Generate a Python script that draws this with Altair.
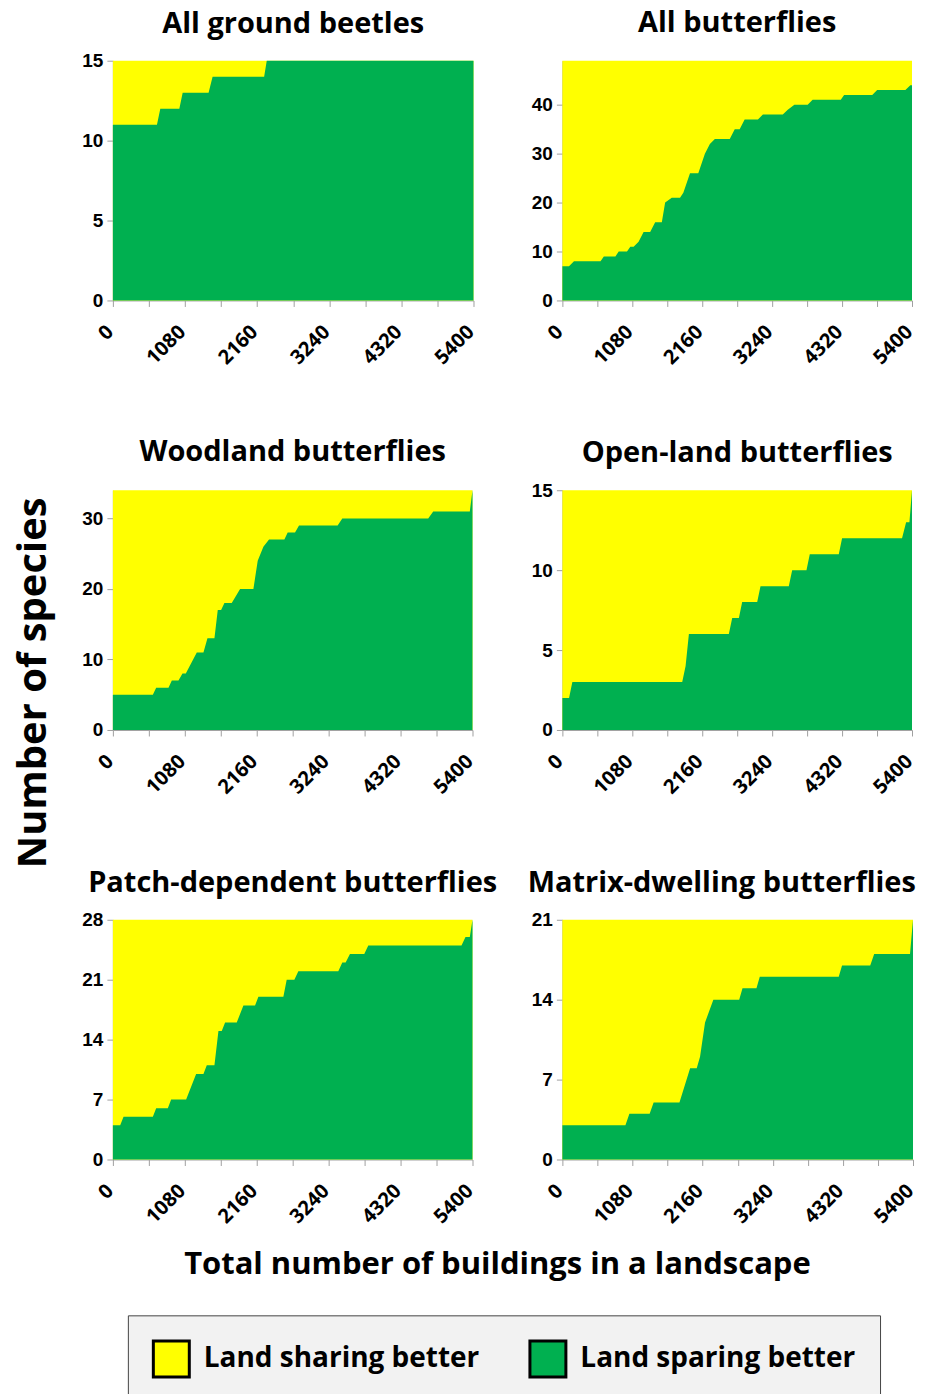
import altair as alt
import pandas as pd

# ---------------- data (buildings, species for which land sparing is better) -------------
beetle_x = [0, 660, 710, 995, 1045, 1433, 1493, 2265, 2304, 5400]
beetle_y = [11, 11, 12, 12, 13, 13, 14, 14, 15, 15]
beetle_total = 15

allbf_x = [0, 102, 179, 589, 640, 819, 870, 998, 1049, 1100, 1177, 1254, 1356, 1433, 1536,
           1587, 1689, 1817, 1868, 1971, 2099, 2201, 2278, 2355, 2585, 2662, 2738, 2815,
           3020, 3097, 3404, 3481, 3583, 3788, 3865, 4300, 4351, 4786, 4862, 5298, 5374, 5400]
allbf_y = [7, 7, 8, 8, 9, 9, 10, 10, 11, 11, 12, 14, 14, 16, 16,
           20, 21, 21, 22, 26, 26, 30, 32, 33, 33, 35, 35, 37,
           37, 38, 38, 39, 40, 40, 41, 41, 42, 42, 43, 43, 44, 44]
allbf_total = 49

wood_x = [0, 600, 650, 835, 885, 985, 1045, 1095, 1260, 1360, 1420, 1525, 1575, 1625, 1675,
          1785, 1910, 2110, 2175, 2260, 2345, 2575, 2625, 2735, 2795, 3375, 3445, 4735,
          4810, 5360, 5400]
wood_y = [5, 5, 6, 6, 7, 7, 8, 8, 11, 11, 13, 13, 17, 17, 18,
          18, 20, 20, 24, 26, 27, 27, 28, 28, 29, 29, 30, 30,
          31, 31, 34]
wood_total = 34

open_x = [0, 103, 154, 1851, 1903, 1954, 2571, 2623, 2726, 2777, 3009, 3060, 3497, 3549,
          3770, 3821, 4269, 4320, 5246, 5309, 5360, 5400]
open_y = [2, 2, 3, 3, 4, 6, 6, 7, 7, 8, 8, 9, 9, 10,
          10, 11, 11, 12, 12, 13, 13, 15]
open_total = 15

patch_x = [0, 110, 160, 600, 650, 825, 875, 1100, 1250, 1360, 1410, 1525, 1585, 1635, 1685,
           1860, 1960, 2135, 2185, 2560, 2610, 2725, 2785, 3385, 3445, 3495, 3560, 3775,
           3835, 5235, 5295, 5360, 5400]
patch_y = [4, 4, 5, 5, 6, 6, 7, 7, 10, 10, 11, 11, 15, 15, 16,
           16, 18, 18, 19, 19, 21, 21, 22, 22, 23, 23, 24, 24,
           25, 25, 26, 26, 28]
patch_total = 28

matrix_x = [0, 971, 1032, 1344, 1405, 1803, 1967, 2069, 2120, 2197, 2325, 2723, 2774, 2989,
            3040, 4256, 4307, 4741, 4802, 5354, 5400]
matrix_y = [3, 3, 4, 4, 5, 5, 8, 8, 9, 12, 14, 14, 15, 15,
            16, 16, 17, 17, 18, 18, 21]
matrix_total = 21

titles = ["All ground beetles", "All butterflies", "Woodland butterflies",
          "Open-land butterflies", "Patch-dependent butterflies", "Matrix-dwelling butterflies"]
x_ticks = list(range(0, 5401, 540))
legend_labels = ["Land sharing better", "Land sparing better"]
legend_colors = ["#ffff00", "#00b050"]

LABEL_FONT = "Liberation Sans"
TITLE_FONT = "Open Sans"

color_scale = alt.Scale(domain=legend_labels, range=legend_colors)


def panel(title, xs, ys, total, yticks, width, title_offset, title_dx=0, height=240):
    n = len(xs)
    df = pd.DataFrame({"x": xs, "spare": ys, "total": [total] * n,
                       "share_lbl": [legend_labels[0]] * n,
                       "spare_lbl": [legend_labels[1]] * n})
    base = alt.Chart(df)
    xenc = alt.X(
        "x:Q",
        scale=alt.Scale(domain=[0, 5400], nice=False, zero=True),
        axis=alt.Axis(values=x_ticks, title=None,
                      labelExpr="datum.value % 1080 === 0 ? datum.value : ''",
                      labelAngle=315, labelAlign="right", labelBaseline="middle",
                      labelPadding=22, labelOffset=-3, labelOverlap=False,
                      labelFont=TITLE_FONT, labelFontSize=20, labelFontWeight="bold"),
    )
    yscale = alt.Scale(domain=[0, total], nice=False)
    yaxis = alt.Axis(values=yticks, title=None, labelPadding=4,
                     labelFont=LABEL_FONT, labelFontSize=19, labelFontWeight="bold")
    yellow = base.mark_area(interpolate="linear", opacity=1).encode(
        x=xenc,
        y=alt.Y("total:Q", scale=yscale, axis=yaxis, stack=None),
        color=alt.Color("share_lbl:N", scale=color_scale,
                        legend=alt.Legend(title=None, orient="none", direction="horizontal",
                                          legendX=15, legendY=1256)),
    )
    green = base.mark_area(interpolate="linear", opacity=1).encode(
        x=xenc,
        y=alt.Y("spare:Q", scale=yscale, axis=yaxis, stack=None),
        color=alt.Color("spare_lbl:N", scale=color_scale, legend=None),
    )
    return alt.layer(yellow, green).properties(
        width=width, height=height,
        title=alt.TitleParams(title, fontSize=29, font=TITLE_FONT, fontWeight="bold",
                              color="black", offset=title_offset, dx=title_dx),
    )


p1 = panel(titles[0], beetle_x, beetle_y, beetle_total, [0, 5, 10, 15], 361, 13)
p2 = panel(titles[1], allbf_x, allbf_y, allbf_total, [0, 10, 20, 30, 40], 350, 23)
p3 = panel(titles[2], wood_x, wood_y, wood_total, [0, 10, 20, 30], 360, 23)
p4 = panel(titles[3], open_x, open_y, open_total, [0, 5, 10, 15], 350, 13)
p5 = panel(titles[4], patch_x, patch_y, patch_total, [0, 7, 14, 21, 28], 360, 13)
p6 = panel(titles[5], matrix_x, matrix_y, matrix_total, [0, 7, 14, 21], 351, 13, -16)

grid = alt.concat(
    p1, p2, p3, p4, p5, p6,
    columns=2,
    spacing={"row": 190, "column": 89},
    bounds="flush",
    title=alt.TitleParams("Number of species", orient="left", anchor="middle",
                          fontSize=40, font=TITLE_FONT, fontWeight="bold", color="black",
                          offset=28, dx=-65),
)

middle = alt.vconcat(
    grid,
    title=alt.TitleParams("Total number of buildings in a landscape", orient="bottom",
                          anchor="middle", fontSize=31, font=TITLE_FONT, fontWeight="bold",
                          color="black", offset=23, dx=32),
)

chart = alt.vconcat(middle).properties(
    padding={"left": 5, "top": 0, "right": 0, "bottom": 4}
).configure_view(
    stroke=None
).configure_axis(
    labelColor="black", domainColor="#a0a0a0", tickColor="#a0a0a0", tickSize=6, grid=False,
).configure_legend(
    labelFont=TITLE_FONT, labelFontSize=28, labelFontWeight="bold", labelColor="black",
    symbolType="square", symbolSize=1296, symbolStrokeColor="black", symbolStrokeWidth=3,
    symbolOpacity=1, labelOffset=13, columnPadding=44, padding=24, fillColor="#f2f2f2",
    strokeColor="#444444", labelLimit=400,
)

chart.save("out.html", embed_options={"renderer": "svg", "actions": False})
